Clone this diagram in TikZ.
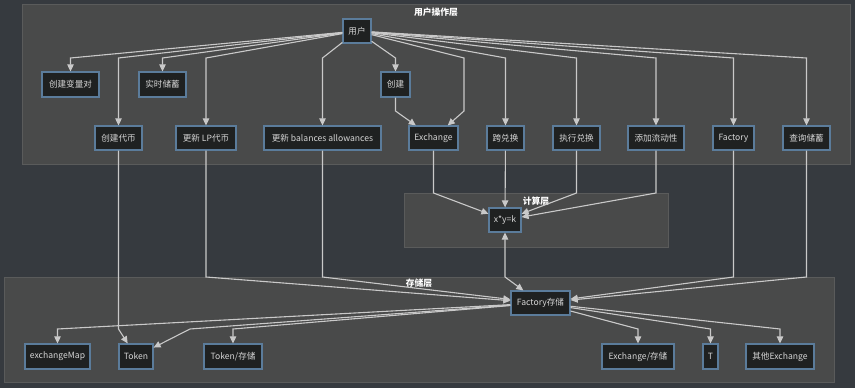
\documentclass[tikz,border=0pt]{standalone}
\usepackage{fontspec}
\setmainfont{Noto Sans CJK SC}
\usetikzlibrary{arrows.meta}
\definecolor{canvas}{HTML}{363A3F}
\definecolor{groupfill}{HTML}{494A4A}
\definecolor{groupline}{HTML}{5A5B5B}
\definecolor{boxfill}{HTML}{1F2121}
\definecolor{boxline}{HTML}{5B7C9B}
\definecolor{boxtext}{HTML}{D6D6D6}
\definecolor{wire}{HTML}{C9C9C9}
\tikzset{
  group/.style={fill=groupfill, draw=groupline, line width=1pt},
  grouptitle/.style={text=white, font=\fontsize{8.8}{10}\selectfont\bfseries, inner sep=0pt},
  box/.style={rectangle, fill=boxfill, draw=boxline, line width=1.2pt, text=boxtext,
    font=\fontsize{8.6}{10}\selectfont, inner sep=0pt, minimum height=24pt, minimum width=#1},
  box/.default=40pt,
  wireline/.style={draw=wire, line width=1.1pt, -{Triangle[length=7pt,width=6.5pt]}},
  twoway/.style={draw=wire, line width=1.1pt, {Triangle[length=7pt,width=6.5pt]}-{Triangle[length=7pt,width=6.5pt]}}
}
\begin{document}
\begin{tikzpicture}[x=1pt,y=-1pt]
  % canvas
  \fill[canvas] (0,0) rectangle (855,388);
  \useasboundingbox (0,0) rectangle (855,388);

  % layer frames
  \draw[group] (22,4.5) rectangle (850,164);
  \draw[group] (404,193) rectangle (668,247);
  \draw[group] (4,277) rectangle (834,382);
  \node[grouptitle] (tuop) at (436,12) {用户操作层};
  \node[grouptitle] (tcalc) at (536,201) {计算层};
  \node[grouptitle] (tstor) at (419,283) {存储层};

  % user layer
  \node[box=28pt] (user) at (357,31) {用户};
  \node[box=57pt, minimum height=25pt] (cvp) at (70.5,84.5) {创建变量对};
  \node[box=47pt, minimum height=25pt] (rts) at (162.5,84.5) {实时储蓄};
  \node[box=29pt, minimum height=25pt] (create) at (395.5,84.5) {创建};
  \node[box=47pt] (ctoken) at (118.5,138) {创建代币};
  \node[box=60pt] (lp) at (206,138) {更新 LP代币};
  \node[box=117pt] (bal) at (322.5,138) {更新 balances allowances};
  \node[box=49pt] (exch) at (433.5,138) {Exchange};
  \node[box=37pt] (cross) at (505.5,138) {跨兑换};
  \node[box=47pt] (exec) at (576.5,138) {执行兑换};
  \node[box=56pt] (addliq) at (656,138) {添加流动性};
  \node[box=41pt] (factory) at (733.5,138) {Factory};
  \node[box=47pt] (query) at (806.5,138) {查询储蓄};

  % calculation layer
  \node[box=32pt] (xyk) at (505,220) {x*y=k};

  % storage layer
  \node[box=59pt] (fstore) at (540.5,303) {Factory存储};
  \node[box=65pt, minimum height=25pt] (emap) at (57.5,356.5) {exchangeMap};
  \node[box=34pt, minimum height=25pt] (token) at (136,356.5) {Token};
  \node[box=58pt, minimum height=25pt] (tstore) at (233,356.5) {Token/存储};
  \node[box=72pt, minimum height=25pt] (exstore) at (638,356.5) {Exchange/存储};
  \node[box=15pt, minimum height=25pt] (tnode) at (710.5,356.5) {T};
  \node[box=68pt, minimum height=25pt] (other) at (780,356.5) {其他Exchange};

  % user actions
  \draw[wireline] (user) -- (70.5,58) -- (cvp);
  \draw[wireline] (user) -- (118.5,58) -- (ctoken);
  \draw[wireline] (user) -- (162.5,58) -- (rts);
  \draw[wireline] (user) -- (206,58) -- (lp);
  \draw[wireline] (user) -- (322.5,58) -- (bal);
  \draw[wireline] (user) -- (395.5,58) -- (create);
  \draw[wireline] (user) -- (464,58) -- (464,111) -- (exch);
  \draw[wireline] (user) -- (505.5,58) -- (cross);
  \draw[wireline] (user) -- (576.5,58) -- (exec);
  \draw[wireline] (user) -- (656,58) -- (addliq);
  \draw[wireline] (user) -- (733.5,58) -- (factory);
  \draw[wireline] (user) -- (806.5,58) -- (query);
  \draw[wireline] (create) -- (395.5,111) -- (exch);

  % into the calculation layer
  \draw[wireline] (exch) -- (433.5,193) -- (xyk);
  \draw[wireline] (cross) -- (xyk);
  \draw[wireline] (exec) -- (576.5,193) -- (xyk);
  \draw[wireline] (addliq) -- (656,193) -- (xyk);
  \draw[twoway] (xyk) -- (505,277) -- (fstore);

  % into the storage layer
  \draw[wireline] (lp) -- (206,277) -- (fstore);
  \draw[wireline] (bal) -- (322.5,277) -- (fstore);
  \draw[wireline] (factory) -- (733.5,277) -- (fstore);
  \draw[wireline] (query) -- (806.5,277) -- (fstore);
  \draw[wireline] (ctoken) -- (118.5,329) -- (token);

  % storage fan-out
  \draw[wireline] (fstore) -- (57.5,329) -- (emap);
  \draw[wireline] (fstore) -- (190,329) -- (token);
  \draw[wireline] (fstore) -- (233,329) -- (tstore);
  \draw[wireline] (fstore) -- (638,329) -- (exstore);
  \draw[wireline] (fstore) -- (710.5,329) -- (tnode);
  \draw[wireline] (fstore) -- (780,329) -- (other);
\end{tikzpicture}
\end{document}
